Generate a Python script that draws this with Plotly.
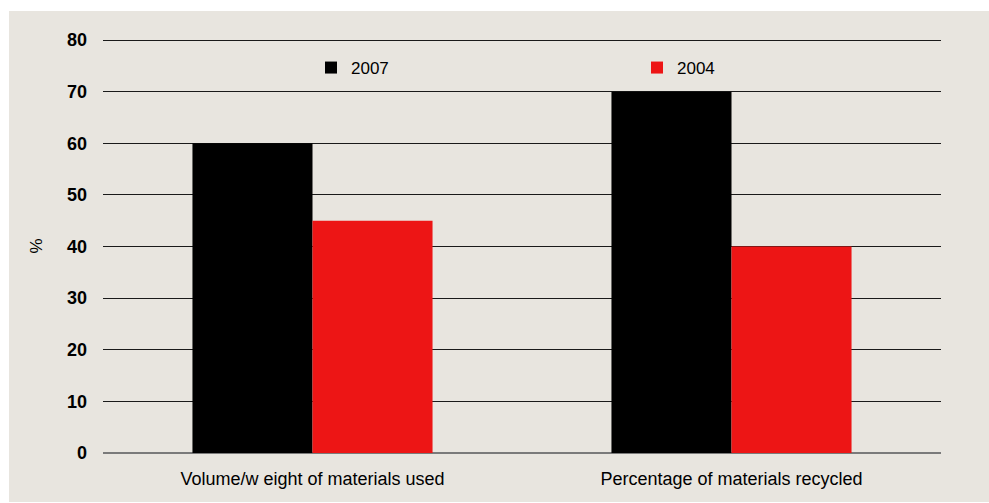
import plotly.graph_objects as go

categories = ["Volume/w eight of materials used", "Percentage of materials recycled"]
series_names = ["2007", "2004"]
values_2007 = [60, 70]
values_2004 = [45, 40]
colors = ["#000000", "#ED1515"]
y_ticks = [0, 10, 20, 30, 40, 50, 60, 70, 80]

FONT = "Liberation Sans, Arial, sans-serif"

fig = go.Figure()
for name, vals, col in zip(series_names, [values_2007, values_2004], colors):
    fig.add_trace(go.Bar(x=categories, y=vals, name=name, marker=dict(color=col, line=dict(width=0))))

fig.update_layout(
    width=989, height=503,
    margin=dict(l=103, r=48, t=39, b=50),
    paper_bgcolor="white",
    plot_bgcolor="rgba(0,0,0,0)",
    barmode="group",
    bargap=0.427,
    bargroupgap=0,
    font=dict(family=FONT, color="#000000", size=16),
    showlegend=True,
    legend=dict(
        orientation="h",
        x=(311 - 103) / 838, xanchor="left",
        y=(453 - 68) / 414, yanchor="middle",
        bgcolor="rgba(0,0,0,0)",
        font=dict(family=FONT, size=17, color="#000000"),
        entrywidth=281, entrywidthmode="pixels",
        traceorder="normal",
    ),
    xaxis=dict(
        showgrid=False, showline=False, ticks="",
        tickfont=dict(family=FONT, size=18, color="#000000"),
        ticklabelstandoff=13,
        automargin=False,
    ),
    yaxis=dict(
        range=[0, 80.2],
        tickvals=y_ticks,
        showgrid=True, gridcolor="#1a1a1a", gridwidth=1,
        zeroline=True, zerolinecolor="#7a7a7a", zerolinewidth=2,
        showline=False, ticks="",
        tickfont=dict(family=FONT, size=18, color="#000000", weight="bold"),
        ticklabelstandoff=15,
        title=dict(text="%", font=dict(family=FONT, size=17, color="#000000"), standoff=20),
        automargin=False,
    ),
    shapes=[dict(
        type="rect", xref="paper", yref="paper",
        x0=(9 - 103) / 838, x1=(995 - 103) / 838,
        y0=(453 - 502) / 414, y1=(453 - 11) / 414,
        fillcolor="#E8E5DF", line=dict(width=0), layer="below",
    )],
)

fig.write_html("out.html")
